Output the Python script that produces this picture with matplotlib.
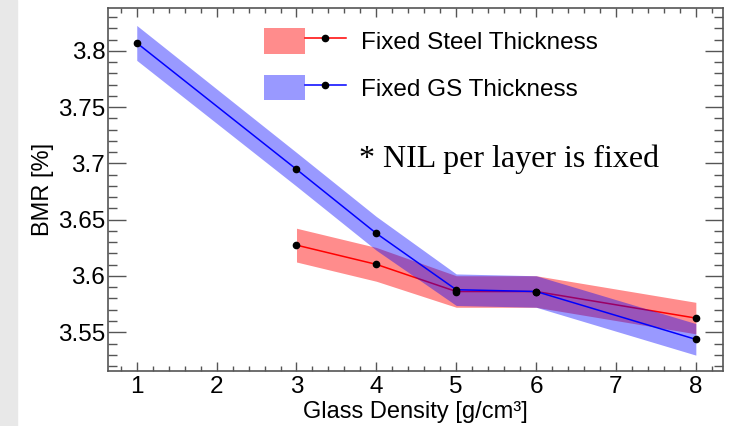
import matplotlib
matplotlib.use("Agg")
import matplotlib.pyplot as plt
from matplotlib.patches import Rectangle, Patch
from matplotlib.lines import Line2D
from matplotlib.legend_handler import HandlerTuple
from matplotlib.ticker import MultipleLocator, FixedLocator

# ---- data ----
steel_x = [3, 4, 5, 6, 8]
steel_y = [3.6274, 3.6103, 3.5862, 3.5862, 3.5626]
steel_err = [0.015, 0.015, 0.014, 0.014, 0.014]

gs_x = [1, 3, 4, 5, 6, 8]
gs_y = [3.8070, 3.6947, 3.6378, 3.5878, 3.5862, 3.5437]
gs_err = [0.0155, 0.015, 0.015, 0.014, 0.014, 0.014]

x_ticks = [1, 2, 3, 4, 5, 6, 7, 8]
y_ticks = [3.55, 3.6, 3.65, 3.7, 3.75, 3.8]
y_ticklabels = ["3.55", "3.6", "3.65", "3.7", "3.75", "3.8"]

labels = ["Fixed Steel Thickness", "Fixed GS Thickness"]
note = "* NIL per layer is fixed"
xlabel = "Glass Density [g/cm³]"
ylabel = "BMR [%]"

plt.rcParams['font.family'] = ['Liberation Sans', 'DejaVu Sans']

FS = 17.5

fig = plt.figure(figsize=(7.35, 4.26), dpi=100)
fig.patches.append(Rectangle((0, 0), 17/735, 1, transform=fig.transFigure,
                             color='#E8E8E8', zorder=0))
ax = fig.add_axes([108/735, 1 - 371/426, 615/735, 363/426])

lo_s = [y - e for y, e in zip(steel_y, steel_err)]
hi_s = [y + e for y, e in zip(steel_y, steel_err)]
lo_g = [y - e for y, e in zip(gs_y, gs_err)]
hi_g = [y + e for y, e in zip(gs_y, gs_err)]

red_fill = (1.0, 0.0, 0.0, 0.45)
blue_fill = (0.0, 0.0, 1.0, 0.40)

ax.fill_between(steel_x, lo_s, hi_s, color=red_fill, lw=0, zorder=1)
ax.plot(steel_x, steel_y, color='red', lw=1.1, zorder=2)
ax.fill_between(gs_x, lo_g, hi_g, color=blue_fill, lw=0, zorder=3)
ax.plot(gs_x, gs_y, color='blue', lw=1.1, zorder=4)
ax.plot(steel_x, steel_y, 'o', color='black', ms=4.5, zorder=5)
ax.plot(gs_x, gs_y, 'o', color='black', ms=4.5, zorder=6)

ax.set_xlim(0.64, 8.34)
ax.set_ylim(3.5156, 3.838)
ax.xaxis.set_major_locator(FixedLocator(x_ticks))
ax.xaxis.set_minor_locator(MultipleLocator(0.2))
ax.yaxis.set_major_locator(FixedLocator(y_ticks))
ax.set_yticklabels(y_ticklabels)
ax.yaxis.set_minor_locator(MultipleLocator(0.01))

spine_c = '#555555'
for s in ax.spines.values():
    s.set_color(spine_c)
    s.set_linewidth(1.2)
ax.tick_params(axis='both', which='both', direction='in', top=True, right=True,
               color=spine_c, width=1.0, labelsize=FS, labelcolor='black')
ax.tick_params(axis='y', which='major', length=13, pad=2)
ax.tick_params(axis='y', which='minor', length=6.5)
ax.tick_params(axis='x', which='major', length=6.5, pad=3.5)
ax.tick_params(axis='x', which='minor', length=3.6)

xl = ax.set_xlabel(xlabel, fontsize=17)
ax.xaxis.set_label_coords(0.5, (371 - 418) / 363)
xl.set_va('baseline')
yl = ax.set_ylabel(ylabel, fontsize=17)
ax.yaxis.set_label_coords((43 - 108) / 615, 0.5)
yl.set_va('center')

h1 = (Patch(facecolor=red_fill, edgecolor='none'),
      Line2D([], [], color='red', lw=1.1, marker='o', mfc='black', mec='black', ms=4.5, markevery=[1]))
h2 = (Patch(facecolor=blue_fill, edgecolor='none'),
      Line2D([], [], color='blue', lw=1.1, marker='o', mfc='black', mec='black', ms=4.5, markevery=[1]))
leg = ax.legend([h1, h2], labels, handler_map={tuple: HandlerTuple(ndivide=None, pad=0)},
                loc='upper left', bbox_to_anchor=(0.254, 0.945), frameon=False,
                fontsize=FS, handlelength=3.35, handleheight=1.25, handletextpad=0.65,
                labelspacing=0.85, borderpad=0, borderaxespad=0)

ax.text((359 - 108) / 615, (371 - 167) / 363, note, transform=ax.transAxes,
        fontsize=23, family='Liberation Serif', va='baseline', ha='left')

fig.savefig('out.png', dpi=100)
